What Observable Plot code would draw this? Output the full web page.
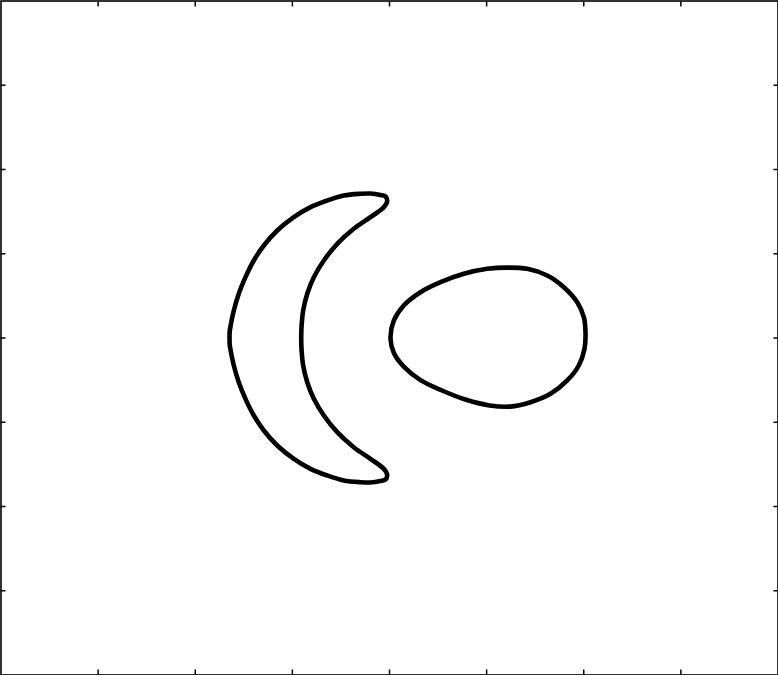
<!DOCTYPE html>
<html>
<head>
<meta charset="utf-8">
<script src="https://cdn.jsdelivr.net/npm/d3@7"></script>
<script src="https://cdn.jsdelivr.net/npm/@observablehq/plot@0.6"></script>
<style>
  html, body { margin: 0; padding: 0; background: #fff; }
  svg { display: block; }
</style>
</head>
<body>
<div id="chart"></div>
<script>
// Tick positions (no labels in the original)
const xTicks = [-3, -2, -1, 0, 1, 2, 3];
const yTicks = [-3, -2, -1, 0, 1, 2, 3];

// Crescent: outer edge (top tip -> left -> bottom tip)
const crescentOuterX = [-0.024, -0.041, -0.093, -0.196, -0.299, -0.471, -0.641, -0.813, -0.985, -1.156, -1.294, -1.397, -1.483, -1.552, -1.603, -1.632, -1.645, -1.647,
                        -1.645, -1.632, -1.603, -1.552, -1.483, -1.397, -1.294, -1.156, -0.985, -0.813, -0.641, -0.471, -0.299, -0.196, -0.093, -0.041];
const crescentOuterY = [1.624, 1.680, 1.697, 1.715, 1.712, 1.691, 1.632, 1.553, 1.434, 1.276, 1.098, 0.920, 0.722, 0.525, 0.326, 0.170, 0.080, 0.000,
                        -0.080, -0.170, -0.326, -0.525, -0.722, -0.920, -1.098, -1.276, -1.434, -1.553, -1.632, -1.691, -1.712, -1.715, -1.697, -1.680];
// Crescent: inner edge (bottom tip -> right of hollow -> top tip)
const crescentInnerX = [-0.024, -0.059, -0.196, -0.368, -0.538, -0.676, -0.779, -0.847, -0.889, -0.906, -0.909,
                        -0.906, -0.889, -0.847, -0.779, -0.676, -0.538, -0.368, -0.196, -0.059];
const crescentInnerY = [-1.624, -1.553, -1.434, -1.296, -1.118, -0.920, -0.722, -0.525, -0.326, -0.128, 0.000,
                        0.128, 0.326, 0.525, 0.722, 0.920, 1.118, 1.296, 1.434, 1.553];

// Egg-shaped loop
const eggX = [0.010, 0.044, 0.147, 0.319, 0.525, 0.765, 1.006, 1.212, 1.418, 1.624, 1.795, 1.933, 2.001, 2.018,
              2.008, 1.949, 1.830, 1.658, 1.452, 1.240, 1.030, 0.780, 0.535, 0.319, 0.147, 0.044];
const eggY = [0.000, 0.205, 0.386, 0.543, 0.662, 0.762, 0.821, 0.835, 0.821, 0.742, 0.603, 0.425, 0.247, 0.069,
              -0.128, -0.326, -0.504, -0.662, -0.762, -0.815, -0.800, -0.730, -0.620, -0.500, -0.340, -0.175];

const crescent = [
  ...crescentOuterX.map((x, i) => ({x, y: crescentOuterY[i]})),
  ...crescentInnerX.map((x, i) => ({x, y: crescentInnerY[i]}))
];
const egg = eggX.map((x, i) => ({x, y: eggY[i]}));

const chart = Plot.plot({
  width: 778,
  height: 675,
  marginLeft: 0.5,
  marginRight: 0.5,
  marginTop: 0.5,
  marginBottom: 0.5,
  style: {background: "#fff"},
  x: {domain: [-4, 4]},
  y: {domain: [-4, 4]},
  marks: [
    Plot.frame({stroke: "black", strokeWidth: 1.6}),
    Plot.axisX({anchor: "bottom", ticks: xTicks, tickSize: -5, tickFormat: () => "", label: null, strokeWidth: 1.5}),
    Plot.axisX({anchor: "top", ticks: xTicks, tickSize: -5, tickFormat: () => "", label: null, strokeWidth: 1.5}),
    Plot.axisY({anchor: "left", ticks: yTicks, tickSize: -5, tickFormat: () => "", label: null, strokeWidth: 1.5}),
    Plot.axisY({anchor: "right", ticks: yTicks, tickSize: -5, tickFormat: () => "", label: null, strokeWidth: 1.5}),
    Plot.line(crescent, {x: "x", y: "y", curve: "catmull-rom-closed", stroke: "black", strokeWidth: 4.6}),
    Plot.line(egg, {x: "x", y: "y", curve: "catmull-rom-closed", stroke: "black", strokeWidth: 4.6})
  ]
});
document.getElementById("chart").appendChild(chart);
</script>
</body>
</html>
